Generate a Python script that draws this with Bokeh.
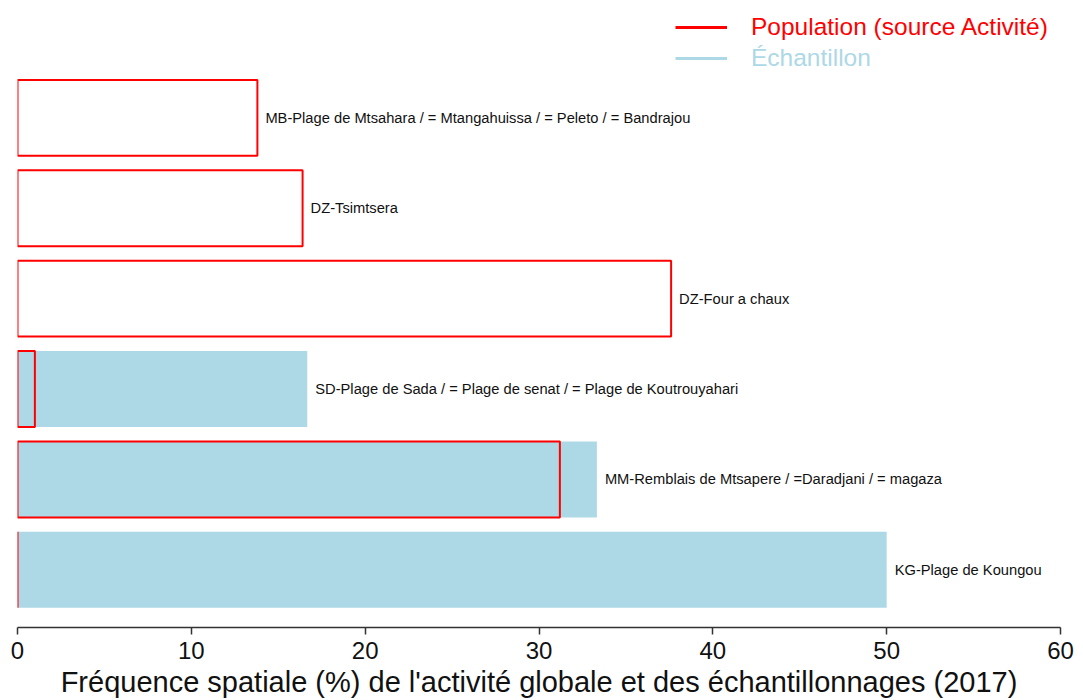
from bokeh.plotting import figure
from bokeh.models import ColumnDataSource, Range1d, Legend, LegendItem, FixedTicker
from bokeh.core.properties import value
from bokeh.embed import file_html
from bokeh.resources import INLINE

# Data (top to bottom as shown)
sites = [
    "MB-Plage de Mtsahara / = Mtangahuissa / = Peleto / = Bandrajou",
    "DZ-Tsimtsera",
    "DZ-Four a chaux",
    "SD-Plage de Sada / = Plage de senat / = Plage de Koutrouyahari",
    "MM-Remblais de Mtsapere / =Daradjani / = magaza",
    "KG-Plage de Koungou",
]
population = [13.8, 16.4, 37.6, 1.0, 31.2, 0.0]
echantillon = [0.0, 0.0, 0.0, 16.67, 33.33, 50.0]
x_ticks = [0, 10, 20, 30, 40, 50, 60]

n = len(sites)
ypos = [n - i for i in range(n)]
label_x = [max(a, b) for a, b in zip(population, echantillon)]

src = ColumnDataSource(dict(y=ypos, site=sites, pop=population, ech=echantillon, lx=label_x))

p = figure(width=1075, height=700, output_backend="svg", toolbar_location=None,
           x_range=Range1d(0, 60), y_range=Range1d(0.362, n + 1.21),
           min_border_left=17, min_border_right=15, min_border_top=8, min_border_bottom=0)
p.outline_line_color = None
p.xgrid.visible = False
p.ygrid.visible = False
p.yaxis.visible = False

bh = 0.84
p.hbar(y="y", left=0, right="ech", height=bh, source=src,
       fill_color="#ADD8E6", line_color=None)
p.hbar(y="y", left=0, right="pop", height=bh, source=src,
       fill_color=None, line_color="red", line_width=2)

p.text(x="lx", y="y", text="site", source=src, x_offset=8,
       text_baseline="middle", text_align="left",
       text_font=value("Liberation Sans"), text_font_size="14.7px", text_color="#111111")

ax = p.xaxis[0]
ax.ticker = FixedTicker(ticks=x_ticks)
ax.minor_tick_line_color = None
ax.major_tick_in = 0
ax.major_tick_out = 7
ax.axis_line_width = 1.5
ax.major_tick_line_width = 1.5
ax.axis_line_color = "#333333"
ax.major_tick_line_color = "#333333"
ax.major_label_text_font = "Liberation Sans"
ax.major_label_text_font_size = "24px"
ax.major_label_text_color = "#111111"
ax.major_label_standoff = 7
ax.axis_label = "Fréquence spatiale (%) de l'activité globale et des échantillonnages (2017)"
ax.axis_label_text_font = "Liberation Sans"
ax.axis_label_text_font_size = "29px"
ax.axis_label_text_font_style = "normal"
ax.axis_label_text_color = "#111111"
ax.axis_label_standoff = 4

r_pop = p.line(x=[-10, -9], y=[-10, -10], line_color="red", line_width=3)
r_ech = p.line(x=[-10, -9], y=[-10, -10], line_color="#ADD8E6", line_width=3)

for r, lab, col, loc in [(r_pop, "Population (source Activité)", "red", (658, 585)),
                         (r_ech, "Échantillon", "#ADD8E6", (658, 554))]:
    lg = Legend(items=[LegendItem(label=lab, renderers=[r])], location=loc,
                padding=0, margin=0, border_line_color=None, background_fill_alpha=0,
                glyph_width=52, glyph_height=30, label_height=30, label_standoff=24,
                label_text_font="Liberation Sans", label_text_font_size="24.5px",
                label_text_color=col)
    p.add_layout(lg)

open("out.html", "w").write(file_html(p, INLINE))
